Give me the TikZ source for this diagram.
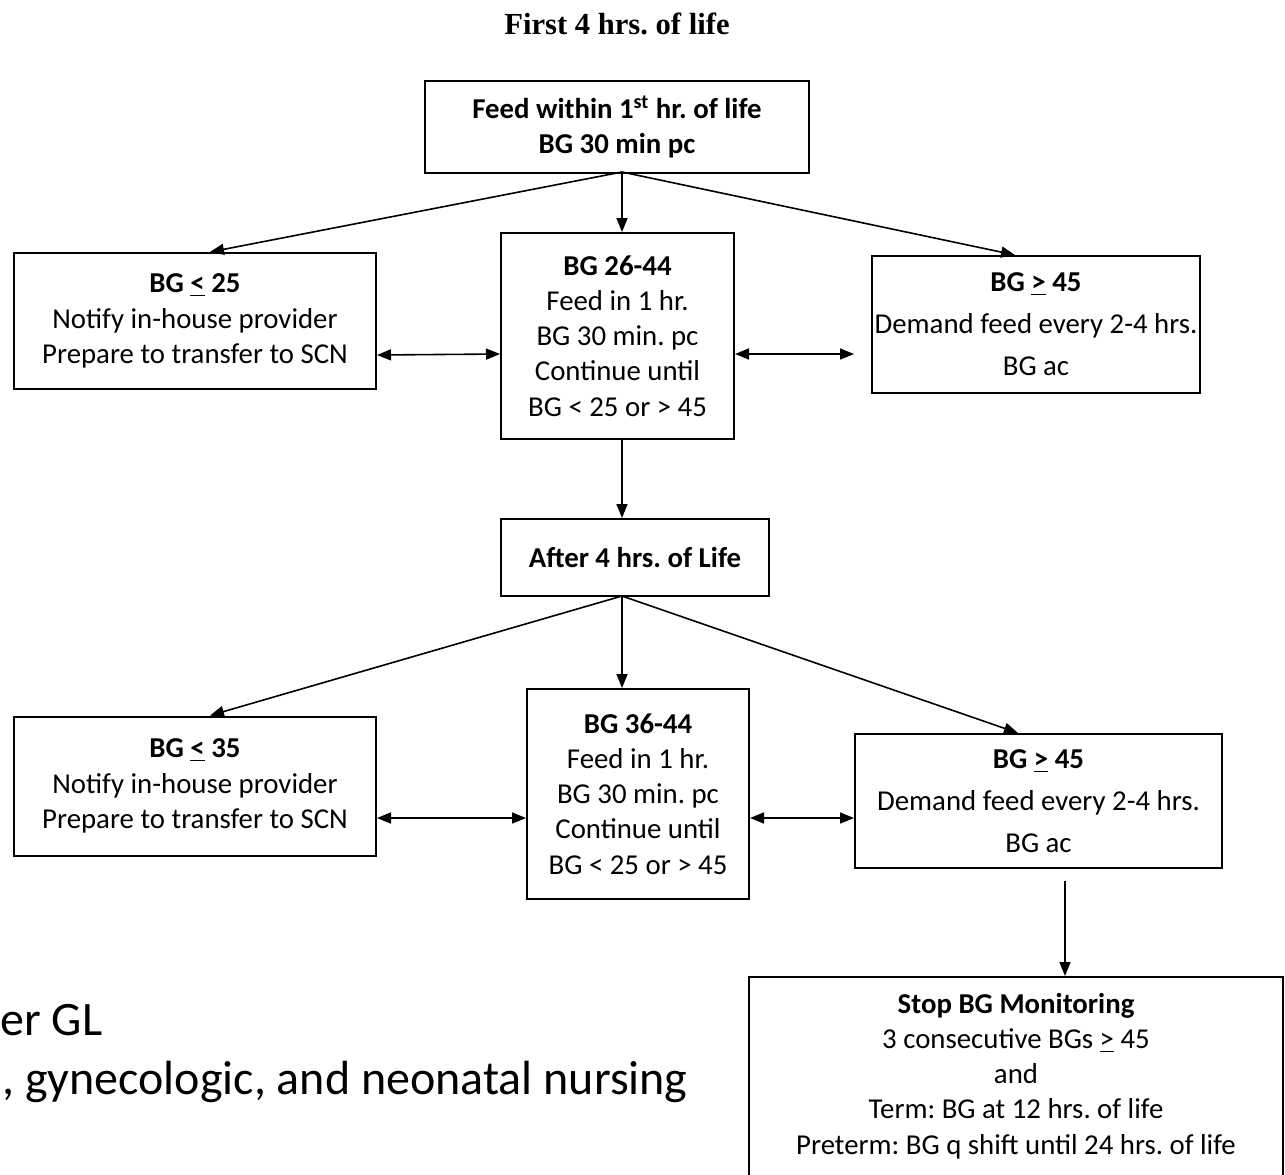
\documentclass[tikz,border=0pt]{standalone}
\usepackage{fontspec}
\setmainfont{Carlito}
\newfontfamily\titlefont{Liberation Serif}
\usetikzlibrary{positioning,arrows.meta,calc}
\tikzset{
  box/.style={draw, line width=1pt, align=center, inner sep=0pt,
              font=\fontsize{14.4}{17.6}\selectfont},
  widebox/.style={box, font=\fontsize{14.4}{21}\selectfont},
  flow/.style={->, line width=0.8pt},
  both/.style={<->, line width=0.8pt},
  >={Triangle[length=7pt,width=5.5pt]},
}
\frenchspacing
\begin{document}
\begin{tikzpicture}[x=0.5pt,y=-0.5pt]
\useasboundingbox (0,0) rectangle (1285,1174);
\clip (0,0) rectangle (1285,1174);

\node[font=\titlefont\bfseries\fontsize{15.3}{18}\selectfont] (title) at (617,24) {First 4 hrs. of life};

% first four hours
\node[box, minimum width=192pt, minimum height=46pt] (feed) at (617,127)
  {\textbf{Feed within 1\textsuperscript{st} hr. of life}\\ \textbf{BG 30 min pc}};
\node[box, minimum width=181pt, minimum height=68pt] (low1) at (195,321)
  {\textbf{BG \underline{<} 25}\\ Notify in-house provider\\ Prepare to transfer to SCN};
\node[box, minimum width=116.5pt, minimum height=103pt] (mid1) at (617.5,336)
  {\textbf{BG 26-44}\\ Feed in 1 hr.\\ BG 30 min. pc\\ Continue until\\ BG < 25 or > 45};
\node[widebox, minimum width=164pt, minimum height=68.5pt] (high1) at (1036,324.5)
  {\textbf{BG \underline{>} 45}\\ Demand feed every 2-4 hrs.\\ BG ac};
\coordinate (fork1) at (622,172);
\draw[flow] (fork1) -- ($(low1.north)+(15,0)$);
\draw[flow] (fork1) -- (fork1 |- mid1.north);
\draw[flow] (fork1) -- ($(high1.north)+(-21,0)$);
\draw[both] ($(low1.east)+(0,34)$) -- ($(mid1.west)+(0,18)$);
\draw[both] ($(mid1.east)+(0,18)$) -- ($(high1.west)+(-17,29.5)$);

% after four hours
\node[box, minimum width=134pt, minimum height=38.5pt] (after) at (635,557.5)
  {\textbf{After 4 hrs. of Life}};
\draw[flow] ($(mid1.south)+(4.5,0)$) -- ($(after.north)+(-13,0)$);
\node[box, minimum width=181pt, minimum height=69.5pt] (low2) at (195,786)
  {\textbf{BG \underline{<} 35}\\ Notify in-house provider\\ Prepare to transfer to SCN};
\node[box, minimum width=111pt, minimum height=105pt] (mid2) at (638,794)
  {\textbf{BG 36-44}\\ Feed in 1 hr.\\ BG 30 min. pc\\ Continue until\\ BG < 25 or > 45};
\node[widebox, minimum width=183.5pt, minimum height=67pt] (high2) at (1038.5,801)
  {\textbf{BG \underline{>} 45}\\ Demand feed every 2-4 hrs.\\ BG ac};
\coordinate (fork2) at (622,596);
\draw[flow] (fork2) -- ($(low2.north)+(15,0)$);
\draw[flow] (fork2) -- (fork2 |- mid2.north);
\draw[flow] (fork2) -- ($(high2.north)+(-20.5,0)$);
\draw[both] ($(low2.east)+(0,32)$) -- ($(mid2.west)+(0,24)$);
\draw[both] ($(mid2.east)+(0,24)$) -- ($(high2.west)+(0,17)$);

% stop monitoring
\node[box, anchor=north, minimum width=267pt, inner ysep=8pt, text depth=110pt] (stop) at (1016,976)
  {\textbf{Stop BG Monitoring}\\ 3 consecutive BGs \underline{>} 45\\ and\\
   Term: BG at 12 hrs. of life\\ Preterm: BG q shift until 24 hrs. of life};
\draw[flow] ($(high2.south)+(26.5,12)$) -- ($(stop.north)+(49,0)$);

% source text at the left
\node[anchor=base west, inner sep=0pt, font=\fontsize{24}{28}\selectfont] (src1) at (0,1035) {er GL};
\node[anchor=base west, inner sep=0pt, font=\fontsize{24}{28}\selectfont] (src2) at (2,1094) {, gynecologic, and neonatal nursing};
\end{tikzpicture}
\end{document}
